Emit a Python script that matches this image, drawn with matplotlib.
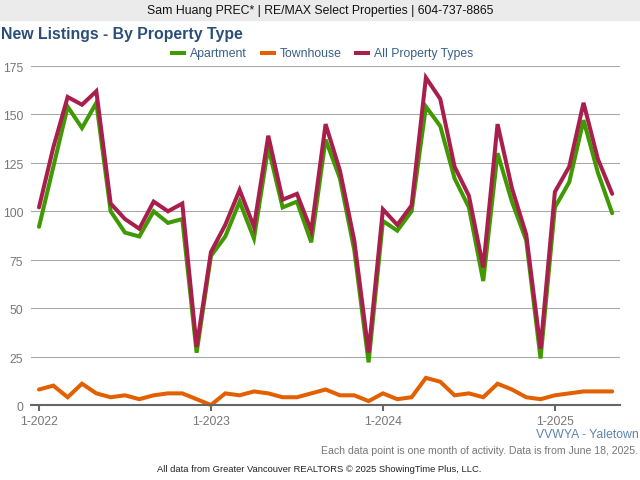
# plot.py
import matplotlib
matplotlib.use("Agg")
import matplotlib.pyplot as plt
from matplotlib.patches import Rectangle
from matplotlib.transforms import ScaledTranslation

# Config
W, H = 640, 480
plt.rcParams['font.family'] = ['Liberation Sans', 'DejaVu Sans']

apartment = [92, 123, 154, 143, 156, 100, 89, 87, 100, 94, 96, 27, 77, 87, 105, 86, 133, 102, 105, 84, 137,
             117, 80, 22, 95, 90, 100, 154, 144, 117, 102, 64, 130, 105, 85, 24, 102, 115, 147, 120, 99]
townhouse = [8, 10, 4, 11, 6, 4, 5, 3, 5, 6, 6, 3, 0, 6, 5, 7, 6, 4, 4, 6, 8,
             5, 5, 2, 6, 3, 4, 14, 12, 5, 6, 4, 11, 8, 4, 3, 5, 6, 7, 7, 7]
all_types = [102, 133, 159, 155, 162, 104, 96, 91, 105, 100, 104, 30, 79, 93, 111, 92, 139, 106, 109, 90, 145,
             121, 85, 27, 101, 93, 103, 169, 158, 123, 108, 71, 145, 112, 88, 29, 110, 123, 156, 127, 109]
y_ticks = [0, 25, 50, 75, 100, 125, 150, 175]
x_ticks = [0, 12, 24, 36]
x_labels = ["1-2022", "1-2023", "1-2024", "1-2025"]

fig = plt.figure(figsize=(W / 100, H / 100), dpi=100)
ax = fig.add_axes([31 / W, 1 - 405 / H, (620 - 31) / W, (405 - 66) / H])

# Header band
fig.patches.append(Rectangle((0, 1 - 20 / H), 1, 20 / H, transform=fig.transFigure, color="#ebebeb", zorder=0))
fig.text(320 / W, 1 - 11 / H, "Sam Huang PREC* | RE/MAX Select Properties | 604-737-8865",
         ha="center", va="center", fontsize=8.8, color="#111111")
fig.text(1 / W, 1 - 35 / H, "New Listings - By Property Type", ha="left", va="center",
         fontsize=11.4, fontweight="bold", color="#2a4f78")

# Lines
ax.plot(apartment, color="#3e9a00", linewidth=2.9, label="Apartment", solid_joinstyle="miter", solid_capstyle="round")
ax.plot(townhouse, color="#e36000", linewidth=2.9, label="Townhouse", solid_joinstyle="miter", solid_capstyle="round", clip_on=False)
ax.plot(all_types, color="#a91f4b", linewidth=2.9, label="All Property Types", solid_joinstyle="miter", solid_capstyle="round")

# Axes
ax.set_xlim(-8 / 14.33, 581 / 14.33)
ax.set_ylim(0, 175)
ax.set_yticks(y_ticks)
ax.set_xticks(x_ticks, x_labels)
ax.grid(axis="y", color="#aaaaaa", linewidth=0.8)
ax.set_axisbelow(True)
for side in ["top", "right", "left"]:
    ax.spines[side].set_visible(False)
ax.spines["bottom"].set_color("#666666")
ax.spines["bottom"].set_linewidth(1.5)
ax.tick_params(axis="y", length=0, pad=5.5, labelsize=8.8, labelcolor="#777777")
ax.tick_params(axis="x", length=4, width=1.5, color="#666666", pad=4.2, labelsize=8.8, labelcolor="#777777")

# y labels sit a little under their gridlines
shift = ScaledTranslation(0, -1.5 / 100, fig.dpi_scale_trans)
for label in ax.get_yticklabels():
    label.set_transform(label.get_transform() + shift)

# Legend
handles, labels = ax.get_legend_handles_labels()
leg = fig.legend(handles, labels, loc="center", bbox_to_anchor=(322 / W, 1 - 54 / H), ncol=3, frameon=False,
                 fontsize=8.8, labelcolor="#38608a", handlelength=1.3, handletextpad=0.33, columnspacing=1.05,
                 borderpad=0, borderaxespad=0)
for line in leg.get_lines():
    line.set_solid_capstyle("butt")

# Footer
fig.text(639 / W, 1 - 435 / H, "VVWYA - Yaletown", ha="right", va="center", fontsize=8.8, color="#5b84b1")
fig.text(638 / W, 1 - 451 / H, "Each data point is one month of activity. Data is from June 18, 2025.",
         ha="right", va="center", fontsize=7.6, color="#777777")
fig.text(319 / W, 1 - 470 / H, "All data from Greater Vancouver REALTORS © 2025 ShowingTime Plus, LLC.",
         ha="center", va="center", fontsize=6.75, color="#222222")

fig.savefig("out.png", dpi=100)
